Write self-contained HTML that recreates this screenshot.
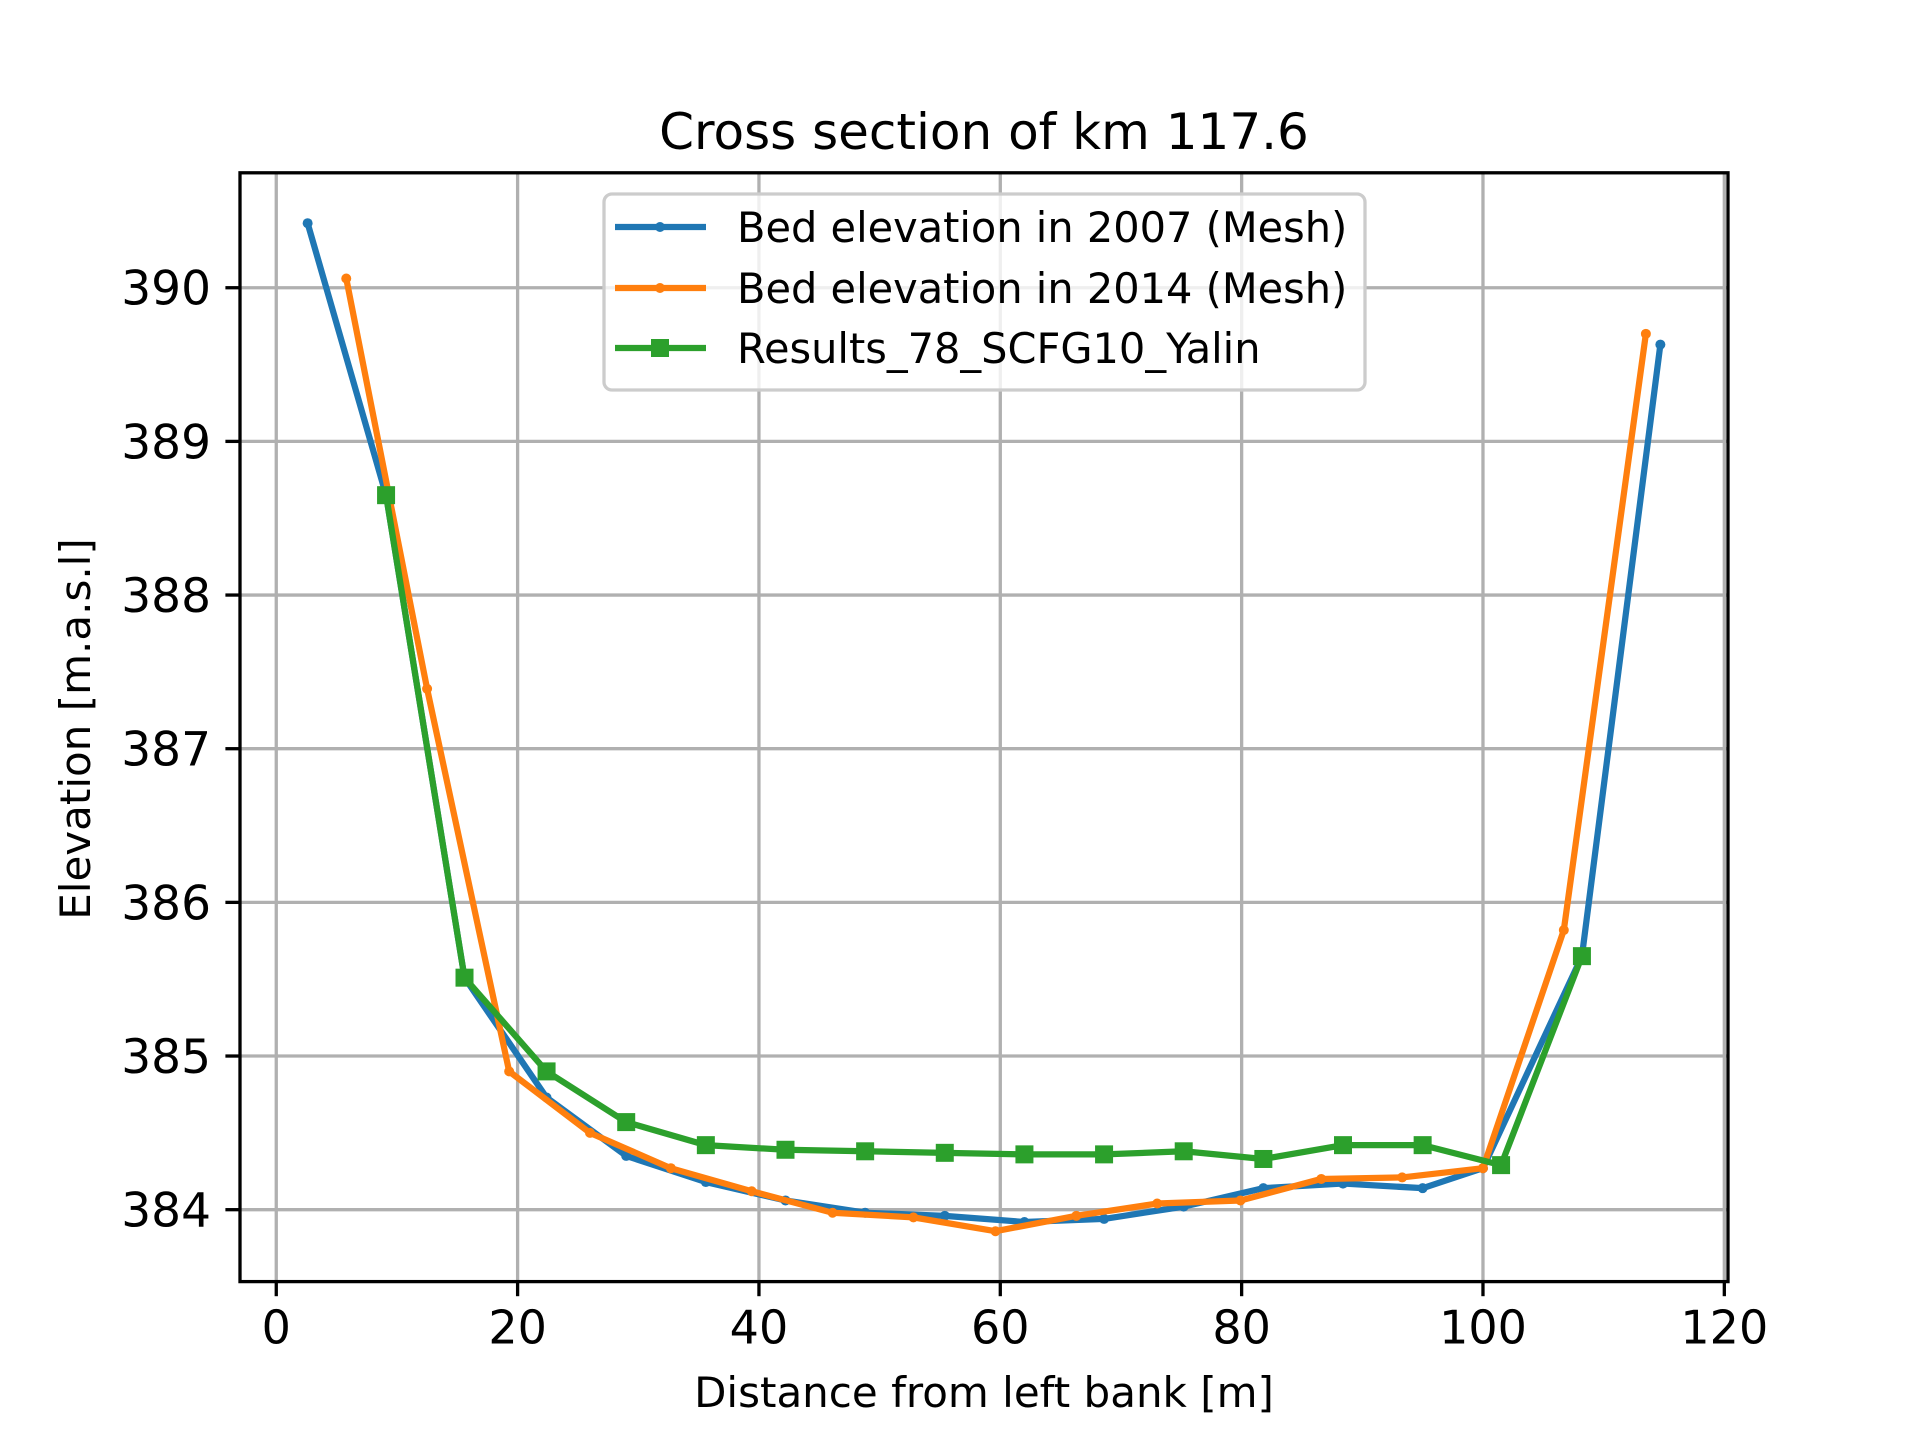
<!DOCTYPE html>
<html><head><meta charset="utf-8"><style>
html,body{margin:0;padding:0;background:#fff;}
svg{display:block;font-family:"DejaVu Sans","Liberation Sans",sans-serif;}
</style></head><body>
<svg id="chart" width="1920" height="1440" viewBox="0 0 1920 1440">
<rect width="1920" height="1440" fill="#fff"/>
<g id="grid"></g>
<g id="series"></g>
<rect x="240" y="172.8" width="1488" height="1108.8" fill="none" stroke="#000" stroke-width="3.3"/>
<g id="ticks"></g>
<text x="984" y="149" font-size="50" text-anchor="middle">Cross section of km 117.6</text>
<text x="984" y="1407" font-size="42" text-anchor="middle">Distance from left bank [m]</text>
<text x="0" y="0" font-size="42" text-anchor="middle" transform="translate(90,729) rotate(-90)">Elevation [m.a.s.l]</text>
<g id="legend">
<rect x="604" y="194" width="761" height="196" rx="8" fill="#fff" fill-opacity="0.8" stroke="#ccc" stroke-width="3.3"/>
<g><line x1="615" y1="227" x2="706" y2="227" stroke="#1f77b4" stroke-width="6.25"/><circle cx="660" cy="227" r="5" fill="#1f77b4"/><text x="737" y="242" font-size="41.5">Bed elevation in 2007 (Mesh)</text></g>
<g><line x1="615" y1="288" x2="706" y2="288" stroke="#ff7f0e" stroke-width="6.25"/><circle cx="660" cy="288" r="5" fill="#ff7f0e"/><text x="737" y="303" font-size="41.5">Bed elevation in 2014 (Mesh)</text></g>
<g><line x1="615" y1="348" x2="706" y2="348" stroke="#2ca02c" stroke-width="6.25"/><rect x="651" y="339" width="18" height="18" fill="#2ca02c"/><text x="737" y="363" font-size="41.5">Results_78_SCFG10_Yalin</text></g>
</g>
</svg>
<script>
const xTicks = [0, 20, 40, 60, 80, 100, 120];
const yTicks = [384, 385, 386, 387, 388, 389, 390];
const x2007 = [2.6, 9.1, 15.6, 22.4, 29.0, 35.6, 42.2, 48.8, 55.4, 62.0, 68.6, 75.2, 81.8, 88.4, 95.0, 100.0, 108.2, 114.7];
const y2007 = [390.42, 388.65, 385.51, 384.73, 384.35, 384.18, 384.06, 383.98, 383.96, 383.92, 383.94, 384.02, 384.14, 384.17, 384.14, 384.27, 385.65, 389.63];
const x2014 = [5.8, 12.5, 19.3, 26.0, 32.7, 39.4, 46.1, 52.8, 59.6, 66.3, 73.0, 79.9, 86.6, 93.3, 100.0, 106.7, 113.5];
const y2014 = [390.06, 387.39, 384.90, 384.50, 384.27, 384.12, 383.98, 383.95, 383.86, 383.96, 384.04, 384.06, 384.20, 384.21, 384.27, 385.82, 389.70];
const xRes = [9.1, 15.6, 22.4, 29.0, 35.6, 42.2, 48.8, 55.4, 62.0, 68.6, 75.2, 81.8, 88.4, 95.0, 101.5, 108.2];
const yRes = [388.65, 385.51, 384.90, 384.57, 384.42, 384.39, 384.38, 384.37, 384.36, 384.36, 384.38, 384.33, 384.42, 384.42, 384.29, 385.65];

const NS = 'http://www.w3.org/2000/svg';
const L = 240, R = 1728, T = 172.8, B = 1281.6;
const allX = x2007.concat(x2014, xRes), allY = y2007.concat(y2014, yRes);
let xmn = Math.min(...allX), xmx = Math.max(...allX), ymn = Math.min(...allY), ymx = Math.max(...allY);
const xm = (xmx - xmn) * 0.05, ym = (ymx - ymn) * 0.05;
xmn -= xm; xmx += xm; ymn -= ym; ymx += ym;
function sx(v) { return L + (v - xmn) / (xmx - xmn) * (R - L); }
function sy(v) { return B - (v - ymn) / (ymx - ymn) * (B - T); }
function mk(tag, attrs, parent) {
  const e = document.createElementNS(NS, tag);
  for (const k in attrs) e.setAttribute(k, attrs[k]);
  parent.appendChild(e);
  return e;
}
const grid = document.getElementById('grid'), ticks = document.getElementById('ticks'), ser = document.getElementById('series');
xTicks.forEach(v => {
  const x = sx(v);
  if (x >= L - 1 && x <= R + 1) {
    const g = mk('line', {x1: x, x2: x, y1: T, y2: B, stroke: '#b0b0b0', 'stroke-width': 3.3}, grid);
    
    
  }
  const t = mk('line', {x1: x, x2: x, y1: B, y2: B + 14.6, stroke: '#000', 'stroke-width': 3.3}, ticks);
  
  
  const lb = mk('text', {x: x, y: B + 62, 'font-size': 46, 'text-anchor': 'middle'}, ticks);
  lb.textContent = v;
  
  
});
yTicks.forEach(v => {
  const y = sy(v);
  const g = mk('line', {x1: L, x2: R, y1: y, y2: y, stroke: '#b0b0b0', 'stroke-width': 3.3}, grid);
  
  
  const t = mk('line', {x1: L - 14.6, x2: L, y1: y, y2: y, stroke: '#000', 'stroke-width': 3.3}, ticks);
  
  
  const lb = mk('text', {x: L - 29, y: y + 17, 'font-size': 47, 'text-anchor': 'end'}, ticks);
  lb.textContent = v;
  
  
});
function drawSeries(xs, ys, color, name, square) {
  const g = mk('g', {}, ser);
  
  
  const pts = xs.map((x, i) => sx(x) + ',' + sy(ys[i])).join(' ');
  mk('polyline', {points: pts, fill: 'none', stroke: color, 'stroke-width': 6.25, 'stroke-linejoin': 'round', 'stroke-linecap': 'square'}, g);
  xs.forEach((x, i) => {
    let m;
    if (square) m = mk('rect', {x: sx(x) - 9, y: sy(ys[i]) - 9, width: 18, height: 18, fill: color}, g);
    else m = mk('circle', {cx: sx(x), cy: sy(ys[i]), r: 5, fill: color}, g);
    
    
  });
}
drawSeries(x2007, y2007, '#1f77b4', 'series-2007', false);
drawSeries(x2014, y2014, '#ff7f0e', 'series-2014', false);
drawSeries(xRes, yRes, '#2ca02c', 'series-results', true);
</script>
</body></html>
